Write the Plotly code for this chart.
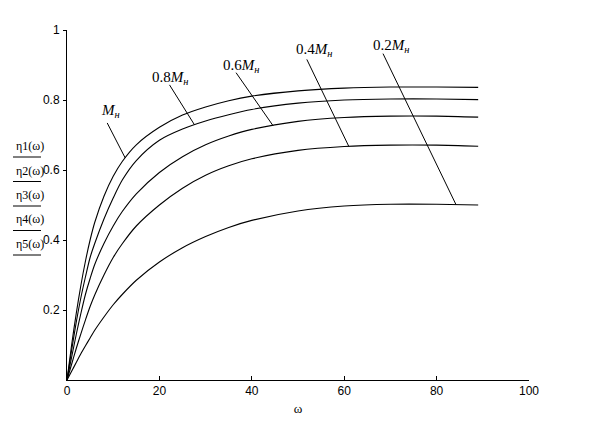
import numpy as np
import plotly.graph_objects as go

# ---- data ----
omega = [0, 1, 2, 3, 4, 5, 6, 8, 10, 12, 15, 20, 25, 30, 35, 40, 50, 60, 70, 80, 89]
eta1 = [0, 0.10, 0.19, 0.27, 0.34, 0.40, 0.45, 0.525, 0.582, 0.625, 0.672, 0.722, 0.757, 0.780, 0.798, 0.811, 0.826, 0.834, 0.837, 0.837, 0.836]
eta2 = [0, 0.085, 0.165, 0.235, 0.295, 0.35, 0.39, 0.46, 0.52, 0.572, 0.627, 0.685, 0.717, 0.740, 0.758, 0.773, 0.791, 0.800, 0.803, 0.803, 0.801]
eta3 = [0, 0.065, 0.13, 0.19, 0.245, 0.29, 0.33, 0.39, 0.44, 0.482, 0.532, 0.593, 0.638, 0.672, 0.697, 0.716, 0.739, 0.750, 0.754, 0.754, 0.751]
eta4 = [0, 0.045, 0.09, 0.132, 0.172, 0.21, 0.243, 0.30, 0.35, 0.39, 0.44, 0.50, 0.548, 0.585, 0.612, 0.632, 0.656, 0.667, 0.671, 0.671, 0.668]
eta5 = [0, 0.025, 0.05, 0.075, 0.098, 0.12, 0.142, 0.18, 0.215, 0.245, 0.285, 0.337, 0.378, 0.410, 0.436, 0.456, 0.483, 0.497, 0.502, 0.502, 0.500]

series = [eta1, eta2, eta3, eta4, eta5]
series_names = ["η1(ω)", "η2(ω)", "η3(ω)", "η4(ω)", "η5(ω)"]

label_texts = ["<i>M</i><sub><i>н</i></sub>", "0.8<i>M</i><sub><i>н</i></sub>",
               "0.6<i>M</i><sub><i>н</i></sub>", "0.4<i>M</i><sub><i>н</i></sub>",
               "0.2<i>M</i><sub><i>н</i></sub>"]
label_omega = [12.6, 27.6, 44.6, 61.0, 84.2]

x_ticks = [0, 20, 40, 60, 80, 100]
y_ticks = [0.2, 0.4, 0.6, 0.8, 1]
y_ticktext = ["0.2", "0.4", "0.6", "0.8", "1"]

# ---- style / layout ----
# the page body has an 8px margin, so the figure is drawn 8px smaller and shifted
OFF = 8
W, H = 597 - OFF, 443 - OFF
ML, MT = 67 - OFF, 30 - OFF
PW, PH = 462, 350
MR, MB = W - ML - PW, H - MT - PH
XR, YR = [0, 100], [0, 1]
# leader line tail offsets (px) and text offsets (px) relative to the point on the curve
leader_off = [(-18, -35), (-25, -40), (-37, -53), (-42, -87), (-73, -151)]
text_off = [(-15, 47), (-25, 47), (-32, 60), (-35, 96), (-65, 159)]

fig = go.Figure()
for ys, nm in zip(series, series_names):
    fig.add_trace(go.Scatter(x=omega, y=ys, mode="lines", name=nm,
                             line=dict(color="black", width=1.1, shape="spline", smoothing=0.8),
                             showlegend=False))

annotations = []
shapes = []
ux = PW / (XR[1] - XR[0])
uy = PH / (YR[1] - YR[0])
for i, (w, txt) in enumerate(zip(label_omega, label_texts)):
    yv = float(np.interp(w, omega, series[i]))
    dx, dy = leader_off[i]
    shapes.append(dict(type="line", xref="x", yref="y", x0=w, y0=yv,
                       x1=w + dx / ux, y1=yv - dy / uy,
                       line=dict(color="black", width=1)))
    annotations.append(dict(x=w, y=yv, xref="x", yref="y", text=txt, showarrow=False,
                            xshift=text_off[i][0], yshift=text_off[i][1],
                            font=dict(family="Liberation Serif", size=15, color="black")))

def px2paper(px, py):
    # pixel position in the reference picture -> paper coordinates
    return (px - 67) / PW, (380 - py) / PH

for k, nm in enumerate(series_names):
    cy = 146 + k * 24.5
    xp, yp = px2paper(14, cy)
    annotations.append(dict(x=xp, y=yp, xref="paper", yref="paper", text=nm, showarrow=False,
                            xanchor="left", yanchor="middle",
                            font=dict(family="Liberation Serif", size=12, color="black")))
    x0, y0 = px2paper(13, cy + 11)
    x1, _ = px2paper(41, cy + 11)
    shapes.append(dict(type="line", xref="paper", yref="paper", x0=x0, x1=x1, y0=y0, y1=y0,
                       line=dict(color="black", width=1)))

fig.update_layout(
    width=W, height=H,
    margin=dict(l=ML, r=MR, t=MT, b=MB, autoexpand=False),
    paper_bgcolor="white", plot_bgcolor="white",
    annotations=annotations, shapes=shapes,
    font=dict(family="Liberation Sans", size=12, color="black"),
)
fig.update_xaxes(range=XR, tickvals=x_ticks, showgrid=False, zeroline=False,
                 showline=True, linecolor="black", linewidth=1,
                 ticks="inside", ticklen=4, tickcolor="black",
                 title=dict(text="ω", standoff=6, font=dict(family="Liberation Serif", size=13)))
fig.update_yaxes(range=YR, tickvals=y_ticks, ticktext=y_ticktext, showgrid=False, zeroline=False,
                 showline=True, linecolor="black", linewidth=1,
                 ticks="outside", ticklen=3, tickcolor="black", ticklabelstandoff=1)

fig.write_html("out.html")
